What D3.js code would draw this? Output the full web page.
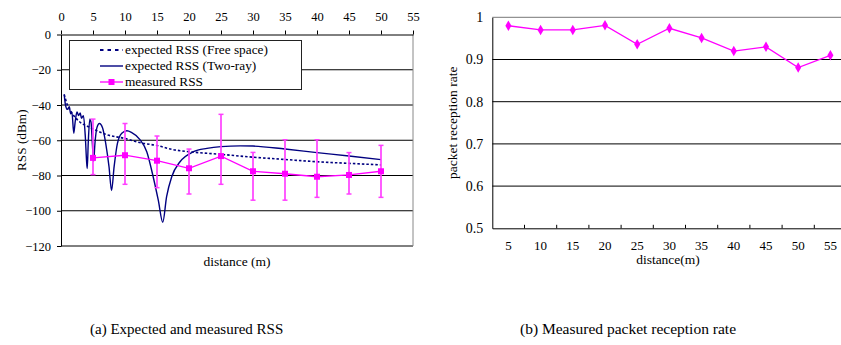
<!DOCTYPE html>
<html>
<head>
<meta charset="utf-8">
<script src="https://cdn.jsdelivr.net/npm/d3@7"></script>
<style>
    body { margin: 0; background: #fff; }
    svg { display: block; font-family: "Liberation Serif", "Times New Roman", serif; }
</style>
</head>
<body>
<svg id="chart"></svg>
<script>
// left chart (a) data
var distTicks = [0, 5, 10, 15, 20, 25, 30, 35, 40, 45, 50, 55];
var rssTicks = [0, -20, -40, -60, -80, -100, -120];

var measDist = [5, 10, 15, 20, 25, 30, 35, 40, 45, 50];
var measRss  = [-70, -68.5, -71.6, -75.9, -69, -77.6, -79, -80.7, -79.7, -77.6];
var measHigh = [-48, -50.5, -57.6, -65, -45.3, -66.9, -59.7, -59.7, -67, -62.9];
var measLow  = [-79.5, -85, -86.9, -90.5, -85, -94, -94, -92.4, -90.5, -92.4];

var freeDist = [0.5, 1, 1.6, 2.9, 4.7, 7.3, 10, 12.5, 15, 17.5, 20, 25, 30, 35, 40, 45, 50];
var freeRss  = [-34, -40, -44, -49.5, -53, -57, -59, -61.5, -63, -65.3, -66.5, -68, -69.6, -70.9, -72.2, -73.1, -74];

var twoDist = [0.5, 0.7, 1.0, 1.3, 1.5, 1.7, 2.0, 2.2, 2.5, 2.75, 3.0, 3.2, 3.5, 3.8, 4.0, 4.1, 4.25, 4.5, 4.7,
               4.9, 5.1, 5.3, 5.6, 6.0, 6.5, 7.0, 7.5, 7.9, 8.3, 8.8, 9.5, 10.3, 11, 12.3, 13.4, 14.4, 15.2,
               15.9, 16.5, 17.3, 18.6, 20.7, 22.8, 25, 28, 30, 35, 40, 45, 50];
var twoRss  = [-34, -40, -42.5, -41, -45, -44, -56, -50, -44, -46, -44.5, -47.5, -46, -58, -72, -76, -62, -48, -50,
               -62, -72, -62, -53, -50.5, -53, -62, -75, -88.5, -75, -62, -56, -54.6, -55.5, -59.5, -66.5, -80.7, -94,
               -106.5, -92, -80.7, -72.2, -66.5, -64.6, -63.6, -63.2, -63.3, -65, -67, -68.9, -71];

var legendLabels = ["expected RSS (Free space)", "expected RSS (Two-ray)", "measured RSS"];

// right chart (b) data
var prrDist = ["5", "10", "15", "20", "25", "30", "35", "40", "45", "50", "55"];
var prrValues = [0.98, 0.97, 0.97, 0.981, 0.936, 0.974, 0.951, 0.92, 0.93, 0.881, 0.91];
var prrTicks = [0.5, 0.6, 0.7, 0.8, 0.9, 1];

var captions = ["(a) Expected and measured RSS", "(b) Measured packet reception rate"];

var navy = "#000080", pink = "#ff00ff";

var svg = d3.select("#chart")
    .attr("width", 841)
    .attr("height", 345);

drawRss();
drawPrr();

svg.append("text")
    .attr("x", 90).attr("y", 334)
    .attr("font-size", 15)
    .text(captions[0]);
svg.append("text")
    .attr("x", 520).attr("y", 334)
    .attr("font-size", 15.5)
    .text(captions[1]);

// d3 axes put sans-serif on their group, take it off again
function serifAxis(sel, size) {
    sel.attr("font-family", null).attr("font-size", null);
    sel.selectAll("text").attr("font-size", size).attr("fill", "#000");
}

function drawRss() {
    var x = d3.scaleLinear().domain([0, 55]).range([61, 413]);
    var y = d3.scaleLinear().domain([-120, 0]).range([246, 34.5]);
    var g = svg.append("g");

    // grid
    g.selectAll(".grid")
        .data(rssTicks.filter(function(d) { return d < 0 && d > -120; }))
        .enter().append("line")
        .attr("x1", x(0)).attr("x2", x(55))
        .attr("y1", function(d) { return y(d); })
        .attr("y2", function(d) { return y(d); })
        .attr("stroke", "#000").attr("stroke-width", 1);
    g.append("line")
        .attr("x1", x(0)).attr("x2", x(55))
        .attr("y1", y(-120)).attr("y2", y(-120))
        .attr("stroke", "#000");
    g.append("line")
        .attr("x1", x(55)).attr("x2", x(55))
        .attr("y1", y(0)).attr("y2", y(-120))
        .attr("stroke", "#888");

    var top = g.append("g")
        .attr("transform", "translate(0," + y(0) + ")")
        .call(d3.axisTop(x).tickValues(distTicks).tickSize(4).tickPadding(10).tickSizeOuter(0));
    serifAxis(top, 12.5);

    var left = g.append("g")
        .attr("transform", "translate(" + x(0) + ",0)")
        .call(d3.axisLeft(y).tickValues(rssTicks).tickSize(4).tickPadding(6).tickSizeOuter(0));
    serifAxis(left, 12.5);

    g.append("text")
        .attr("transform", "translate(26," + ((y(0) + y(-120)) / 2) + ") rotate(-90)")
        .attr("text-anchor", "middle")
        .attr("font-size", 13.3)
        .text("RSS (dBm)");
    g.append("text")
        .attr("x", (x(0) + x(55)) / 2).attr("y", 266)
        .attr("text-anchor", "middle")
        .attr("font-size", 13.5)
        .text("distance (m)");

    var line = d3.line()
        .x(function(d) { return x(d[0]); })
        .y(function(d) { return y(d[1]); });

    g.append("path")
        .datum(d3.zip(freeDist, freeRss))
        .attr("fill", "none")
        .attr("stroke", navy)
        .attr("stroke-width", 1.6)
        .attr("stroke-dasharray", "2.5,2")
        .attr("d", line.curve(d3.curveMonotoneX));

    g.append("path")
        .datum(d3.zip(twoDist, twoRss))
        .attr("fill", "none")
        .attr("stroke", navy)
        .attr("stroke-width", 1.4)
        .attr("d", line.curve(d3.curveMonotoneX));

    var meas = d3.zip(measDist, measRss, measHigh, measLow);

    g.selectAll(".err")
        .data(meas)
        .enter().append("line")
        .attr("x1", function(d) { return x(d[0]); })
        .attr("x2", function(d) { return x(d[0]); })
        .attr("y1", function(d) { return y(d[2]); })
        .attr("y2", function(d) { return y(d[3]); })
        .attr("stroke", "#ff40ff").attr("stroke-width", 1.7);
    [2, 3].forEach(function(k) {
        g.selectAll(".cap" + k)
            .data(meas)
            .enter().append("line")
            .attr("x1", function(d) { return x(d[0]) - 2.5; })
            .attr("x2", function(d) { return x(d[0]) + 2.5; })
            .attr("y1", function(d) { return y(d[k]); })
            .attr("y2", function(d) { return y(d[k]); })
            .attr("stroke", "#ff40ff").attr("stroke-width", 1.5);
    });

    g.append("path")
        .datum(meas)
        .attr("fill", "none")
        .attr("stroke", pink)
        .attr("stroke-width", 1.3)
        .attr("d", line.curve(d3.curveLinear));

    g.selectAll(".pt")
        .data(meas)
        .enter().append("rect")
        .attr("x", function(d) { return x(d[0]) - 3; })
        .attr("y", function(d) { return y(d[1]) - 3; })
        .attr("width", 6).attr("height", 6)
        .attr("fill", pink);

    // legend
    var lg = g.append("g");
    lg.append("rect")
        .attr("x", 69.5).attr("y", 40.5)
        .attr("width", 232).attr("height", 49)
        .attr("fill", "#fff").attr("stroke", "#222");
    legendLabels.forEach(function(t, i) {
        var ly = 50 + i * 16;
        var l = lg.append("line")
            .attr("x1", 100).attr("x2", 123)
            .attr("y1", ly).attr("y2", ly);
        if (i == 0) l.attr("stroke", navy).attr("stroke-width", 2).attr("stroke-dasharray", "3.5,4");
        if (i == 1) l.attr("stroke", navy).attr("stroke-width", 1.4);
        if (i == 2) {
            l.attr("stroke", pink).attr("stroke-width", 1.3);
            lg.append("rect")
                .attr("x", 108.5).attr("y", ly - 3)
                .attr("width", 6).attr("height", 6)
                .attr("fill", pink);
        }
        lg.append("text")
            .attr("x", 125).attr("y", ly)
            .attr("dy", "0.33em")
            .attr("font-size", 13.3)
            .text(t);
    });
}

function drawPrr() {
    var x = d3.scaleBand().domain(prrDist).range([492.3, 846.5]).padding(0);
    var y = d3.scaleLinear().domain([0.5, 1]).range([228.3, 17.3]);
    var g = svg.append("g");

    g.selectAll(".grid")
        .data(prrTicks.filter(function(d) { return d > 0.5; }))
        .enter().append("line")
        .attr("x1", 492.3).attr("x2", 846.5)
        .attr("y1", function(d) { return y(d); })
        .attr("y2", function(d) { return y(d); })
        .attr("stroke", function(d) { return d == 1 ? "#777" : "#000"; })
        .attr("stroke-width", 1);

    var bottom = g.append("g")
        .attr("transform", "translate(0," + y(0.5) + ")")
        .call(d3.axisBottom(x).tickSize(0).tickPadding(12).tickSizeOuter(0));
    serifAxis(bottom, 13);

    // ticks sit on the category boundaries, pointing up
    g.selectAll(".bt")
        .data(prrDist.slice(1))
        .enter().append("line")
        .attr("x1", function(d) { return x(d); })
        .attr("x2", function(d) { return x(d); })
        .attr("y1", y(0.5)).attr("y2", y(0.5) - 3.5)
        .attr("stroke", "#000");

    var left = g.append("g")
        .attr("transform", "translate(" + x.range()[0] + ",0)")
        .call(d3.axisLeft(y).tickValues(prrTicks).tickFormat(d3.format("")).tickSize(0).tickPadding(9).tickSizeOuter(0));
    serifAxis(left, 14);

    g.append("text")
        .attr("transform", "translate(457," + ((y(0.5) + y(1)) / 2) + ") rotate(-90)")
        .attr("text-anchor", "middle")
        .attr("font-size", 13.5)
        .text("packet reception rate");
    g.append("text")
        .attr("x", 668).attr("y", 264)
        .attr("text-anchor", "middle")
        .attr("font-size", 13.5)
        .text("distance(m)");

    var line = d3.line()
        .x(function(d) { return x(d[0]) + x.bandwidth() / 2; })
        .y(function(d) { return y(d[1]); });
    var pts = d3.zip(prrDist, prrValues);

    g.append("path")
        .datum(pts)
        .attr("fill", "none")
        .attr("stroke", pink)
        .attr("stroke-width", 1.3)
        .attr("d", line);

    g.selectAll(".pt")
        .data(pts)
        .enter().append("path")
        .attr("transform", function(d) {
            return "translate(" + (x(d[0]) + x.bandwidth() / 2) + "," + y(d[1]) + ")";
        })
        .attr("d", d3.symbol().type(d3.symbolDiamond).size(32))
        .attr("fill", pink);
}
</script>
</body>
</html>
